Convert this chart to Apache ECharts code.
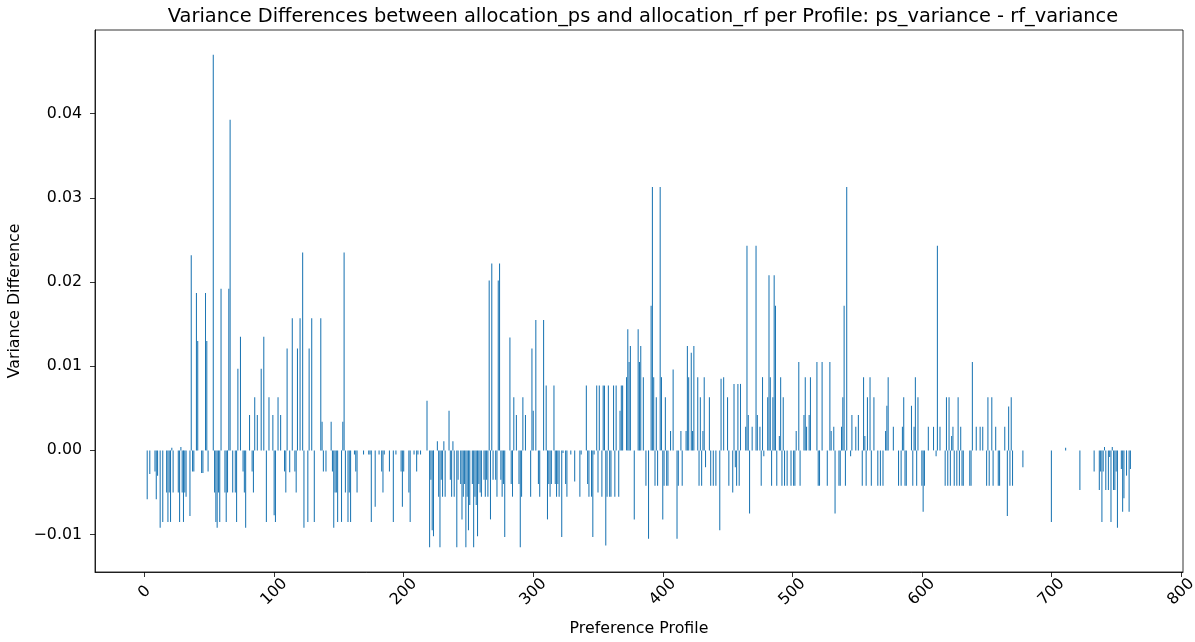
<!DOCTYPE html>
<html><head><meta charset="utf-8">
<script src="https://cdn.jsdelivr.net/npm/echarts@6/dist/echarts.min.js"></script>
<style>html,body{margin:0;padding:0;background:#fff}#c{width:1195px;height:642px}</style>
</head><body><div id="c"></div>
<script>
const titleText = 'Variance Differences between allocation_ps and allocation_rf per Profile: ps_variance - rf_variance';
const xAxisName = 'Preference Profile';
const yAxisName = 'Variance Difference';
const xTicks = [0, 100, 200, 300, 400, 500, 600, 700, 800];
const yTicks = [-0.01, 0, 0.01, 0.02, 0.03, 0.04];
const barColor = '#1f77b4';
// ps_variance - rf_variance for profiles 0..762
const diffs = [
0, 0, -0.0058, 0, -0.0028, 0, 0, 0, -0.0025, -0.0058,
-0.003, 0, -0.0092, 0, -0.0085, 0, 0, -0.005, -0.0085, -0.005,
-0.0085, 0.0003, -0.005, 0, 0, 0, -0.005, -0.0085, 0.0004, -0.005,
-0.0085, -0.005, -0.0055, 0, 0, -0.0078, 0.0232, -0.0025, -0.0025, 0,
0.0187, 0.013, 0, 0, -0.0027, -0.0027, 0, 0.0187, 0.013, -0.0025,
0, 0, 0, 0.047, -0.005, -0.0085, -0.0092, -0.005, -0.0085, 0.0192,
0, 0, -0.005, -0.0085, -0.005, 0.0192, 0.0393, 0, -0.005, 0,
-0.005, -0.0085, 0.0097, 0, 0.0135, 0, -0.0025, -0.005, -0.0092, 0,
0, 0.0042, 0, -0.0025, -0.005, 0.0063, 0, 0.0042, 0, 0,
0.0097, 0, 0.0135, 0, -0.0085, 0, 0.0063, 0, 0, 0.0042,
-0.0077, -0.0085, 0, 0.0063, 0, 0.0042, 0, 0, -0.0025, -0.005,
0.0121, 0, -0.0026, 0, 0.0157, 0, -0.0025, -0.005, 0.0121, 0,
0.0157, 0, 0.0235, -0.0092, 0, 0, -0.0085, 0.0121, 0, 0.0157,
0, -0.0085, 0, 0, 0, 0, 0.0157, 0.0034, -0.0025, 0,
-0.0025, 0, 0, 0, 0.0034, -0.0025, -0.0092, -0.005, -0.005, -0.0085,
0, 0, -0.0085, 0.0034, 0.0235, -0.005, 0, -0.0085, -0.005, -0.0085,
0, 0, -0.0005, -0.0025, -0.005, 0, 0, 0, 0, -0.0005,
0, 0, 0, -0.0005, -0.0005, -0.0085, 0, 0, -0.0067, 0,
0, -0.0005, 0, -0.0025, -0.005, -0.0005, 0, 0, 0, -0.0025,
0, 0, -0.0085, 0, -0.0005, 0, 0, 0, -0.0025, -0.0067,
-0.0025, 0, 0, 0, -0.005, -0.0085, 0, 0, -0.0005, 0,
-0.0025, -0.0005, 0, -0.0005, 0, 0, 0, 0, 0.0059, 0,
-0.0115, -0.0035, -0.0095, -0.0102, 0, 0, 0.0011, -0.0055, -0.0115, -0.0035,
-0.0055, 0.0011, -0.0055, 0, 0, 0.0047, -0.0035, -0.0055, 0.0011, -0.0055,
0, -0.0115, -0.0035, 0, -0.004, -0.0082, -0.0055, -0.004, -0.0115, -0.0055,
-0.0095, -0.0065, 0, -0.004, -0.0115, -0.0055, -0.0065, -0.0102, -0.004, -0.005,
-0.0055, 0, -0.0035, -0.0055, -0.0035, -0.0055, 0.0202, -0.0082, 0.0222, -0.0035,
0, -0.0035, -0.0055, 0.0202, 0.0222, -0.0035, -0.0055, -0.004, -0.0103, 0,
0, 0, 0.0134, -0.004, -0.0055, 0.0063, 0, 0.0042, 0, -0.004,
-0.0115, -0.0055, 0.0063, 0, 0.0042, 0, 0, 0, -0.0055, 0.0121,
0.0047, 0, 0.0155, 0, -0.004, -0.0055, 0, 0, 0.0155, 0,
0.0077, -0.0082, -0.004, -0.0055, -0.004, 0, 0.0077, -0.004, -0.0055, -0.004,
-0.0055, 0, -0.0103, -0.0003, 0, -0.004, -0.0055, 0, 0, -0.0005,
0, 0, -0.0037, 0, 0, 0, -0.0055, -0.0005, 0, 0,
0, 0.0077, -0.004, -0.0055, 0, -0.0055, -0.0103, -0.0005, 0, 0.0077,
-0.005, 0.0077, 0, -0.0055, 0.0077, 0.0077, -0.0113, -0.0055, 0.0077, -0.0055,
-0.0055, 0, 0.0077, -0.0055, 0.0077, 0, -0.0055, 0.0047, 0.0077, 0.0077,
0, 0, 0.0087, 0.0144, 0.0105, 0.0124, 0, 0, -0.0082, 0,
0, 0.0144, 0.0105, 0.0124, 0, 0.0087, 0, -0.0042, 0, -0.0105,
0, 0.0172, 0.0313, 0.0087, -0.0042, 0.0063, -0.0042, 0, 0.0313, 0.0087,
-0.0082, -0.0042, 0.0063, -0.0042, -0.0042, 0, 0.0023, 0, 0.0096, 0,
0, -0.0105, -0.0042, 0, 0.0023, -0.0042, 0, 0, 0.0023, 0.0124,
0.0087, 0, 0.0116, 0.0023, 0.0124, 0, 0, 0.0087, -0.0042, 0.0063,
-0.0042, 0.0023, 0.0087, -0.002, 0, 0, 0.0063, -0.0042, 0, -0.0042,
0, -0.0042, 0, 0, -0.0095, 0.0085, 0, 0.0087, 0, 0,
0.0063, -0.0042, 0, 0, -0.005, 0.0079, -0.002, -0.0042, 0.0079, -0.0042,
0.0079, 0, 0, 0, 0.0028, 0.0243, 0.0042, -0.0075, 0, 0.0028,
0, 0, 0.0243, 0.0042, 0, 0.0028, -0.0042, 0.0087, -0.0007, 0,
0, 0.0063, 0.0208, 0.0087, -0.0042, 0.0063, 0.0208, 0.0172, -0.0042, 0,
0.0017, 0.0087, -0.0042, 0.0063, -0.0042, 0, -0.0042, 0, 0, -0.0042,
0, -0.0042, -0.0042, 0.0023, 0, 0.0105, -0.0042, 0, 0, 0.0042,
0.0087, 0.0028, 0, 0.0042, 0.0087, 0, 0, 0, 0, 0.0105,
-0.0042, -0.0042, 0, 0.0105, 0, 0, 0, -0.0042, 0, 0.0105,
0.0023, 0, 0.0028, -0.0075, 0, 0, -0.0042, -0.0042, 0.0028, 0.0063,
0.0172, -0.0042, 0.0313, 0, 0, -0.0007, 0.0042, 0, 0, 0.0028,
0, 0.0042, 0, 0, -0.0042, 0.0087, 0.0017, -0.0042, 0.0063, 0,
0.0087, -0.0042, 0, 0.0063, 0, 0, -0.0042, 0, -0.0042, 0,
-0.0042, 0, 0.0023, 0.0053, 0.0087, 0, 0, 0, 0.0028, 0,
0, 0, -0.0042, 0, -0.0042, 0.0028, 0.0063, -0.0042, -0.0042, 0,
0, 0, 0.0053, -0.0042, 0.0028, 0.0087, -0.0042, 0.0063, 0, 0,
-0.0042, -0.0073, -0.0042, 0, 0, 0.0028, 0, 0, 0, 0.0028,
0, -0.0007, 0.0243, 0, 0.0028, 0, 0, 0, -0.0042, 0.0063,
-0.0042, 0.0063, -0.0042, 0.0017, 0.0028, -0.0042, 0, -0.0042, 0.0063, -0.0042,
0.0028, -0.0042, -0.0042, 0, 0, 0, 0, -0.0042, -0.0042, 0.0105,
0, 0, 0.0028, 0, 0, 0.0028, 0, 0.0028, 0, 0,
-0.0042, 0.0063, -0.0042, 0, 0.0063, -0.0042, 0, 0.0028, 0, -0.0042,
-0.0042, 0, 0, 0, 0.0028, 0, -0.0078, 0.0052, -0.0042, 0.0063,
-0.0042, 0, 0, 0, 0, 0, 0, 0, -0.002, 0,
0, 0, 0, 0, 0, 0, 0, 0, 0, 0,
0, 0, 0, 0, 0, 0, 0, 0, 0, 0,
-0.0085, 0, 0, 0, 0, 0, 0, 0, 0, 0,
0, 0.0003, 0, 0, 0, 0, 0, 0, 0, 0,
0, 0, -0.0047, 0, 0, 0, 0, 0, 0, 0,
0, 0, 0, -0.0025, 0, 0, 0, -0.0047, -0.0025, -0.0085,
-0.0025, 0.0004, -0.0047, 0, -0.0047, -0.0008, -0.0085, 0.0004, -0.0047, -0.0047,
-0.0025, -0.0092, 0, 0, -0.0022, -0.0073, -0.0057, 0, -0.003, 0,
-0.0073, -0.0022, 0
];

const font = 'DejaVu Sans';
const chart = echarts.init(document.getElementById('c'), null, {renderer: 'canvas'});
const barData = diffs.map((v, i) => [i, v]).filter(d => d[1] !== 0);
const fmtY = v => (v < 0 ? '\u2212' : '') + Math.abs(v).toFixed(2);

chart.setOption({
  animation: false,
  backgroundColor: '#fff',
  title: {
    text: titleText, left: 638, top: 2, textAlign: 'center',
    textStyle: {fontFamily: font, fontSize: 19.4, fontWeight: 'normal', color: '#000'}
  },
  grid: {left: 95, right: 12, top: 30, bottom: 70, outerBoundsMode: 'none', containLabel: false,
    show: true, borderColor: '#000', borderWidth: 0.8, backgroundColor: 'transparent'},
  xAxis: {
    type: 'value', min: -38.3, max: 801.6,
    name: xAxisName, nameLocation: 'middle', nameGap: 49,
    nameTextStyle: {fontFamily: font, fontSize: 15.8, color: '#000'},
    axisLine: {show: true, onZero: false, lineStyle: {color: '#000', width: 0.8}},
    axisTick: {show: true, length: 5, customValues: xTicks, lineStyle: {color: '#000', width: 0.8}},
    axisLabel: {customValues: xTicks, rotate: 45, align: 'center', verticalAlign: 'middle', margin: 20,
      fontFamily: font, fontSize: 15.8, color: '#000'},
    splitLine: {show: false}
  },
  yAxis: {
    type: 'value', min: -0.01445, max: 0.04995,
    name: yAxisName, nameLocation: 'middle', nameGap: 70, nameRotate: 90,
    nameTextStyle: {fontFamily: font, fontSize: 15.8, color: '#000'},
    axisLine: {show: true, onZero: false, lineStyle: {color: '#000', width: 0.8}},
    axisTick: {show: true, length: 5, customValues: yTicks, lineStyle: {color: '#000', width: 0.8}},
    axisLabel: {customValues: yTicks, formatter: fmtY, margin: 13, fontFamily: font, fontSize: 15.8, color: '#000'},
    splitLine: {show: false}
  },
  series: [{
    type: 'bar', data: barData, barWidth: 1.05,
    itemStyle: {color: barColor}, large: false, silent: true
  }]
});
</script>
</body></html>
